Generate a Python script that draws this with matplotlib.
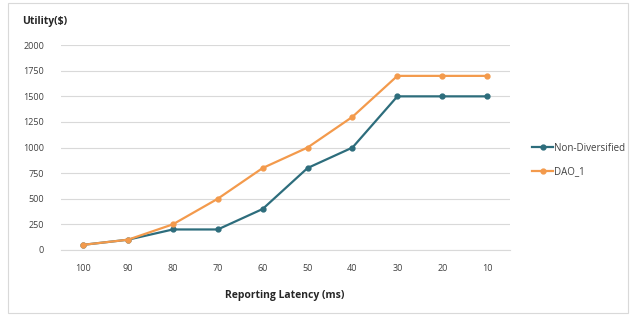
import matplotlib.pyplot as plt
from matplotlib.patches import Rectangle

# data
latency = ["100", "90", "80", "70", "60", "50", "40", "30", "20", "10"]
non_diversified = [50, 100, 200, 200, 400, 800, 1000, 1500, 1500, 1500]
dao_1 = [50, 100, 250, 500, 800, 1000, 1300, 1700, 1700, 1700]
y_ticks = [0, 250, 500, 750, 1000, 1250, 1500, 1750, 2000]

teal = "#2D6D7C"
orange = "#F39A4C"

plt.rcParams["font.family"] = ["Open Sans", "DejaVu Sans"]

fig = plt.figure(figsize=(6.36, 3.18), dpi=100)
fig.patches.append(Rectangle((0.012, 0.015), 0.976, 0.975, transform=fig.transFigure,
                             fill=False, edgecolor="#D9D9D9", linewidth=0.8))

ax = fig.add_axes([0.0953, 0.214, 0.706, 0.644])
x = range(len(latency))
ax.plot(x, non_diversified, color=teal, lw=1.6, marker="o", ms=3.5, label="Non-Diversified")
ax.plot(x, dao_1, color=orange, lw=1.6, marker="o", ms=3.5, label="DAO_1")

ax.set_xlim(-0.5, len(latency) - 0.5)
ax.set_ylim(0, 2000)
ax.set_xticks(list(x))
ax.set_xticklabels(latency)
ax.set_yticks(y_ticks)
ax.tick_params(axis="both", length=0, labelsize=6.5, colors="#404040")
ax.tick_params(axis="x", pad=10)
ax.tick_params(axis="y", pad=12)
ax.grid(axis="y", color="#D9D9D9", lw=0.8)
ax.set_axisbelow(True)
for s in ["top", "right", "left"]:
    ax.spines[s].set_visible(False)
ax.spines["bottom"].set_color("#D9D9D9")

fig.text(0.035, 0.925, "Utility($)", fontsize=7.5, fontweight="bold", color="#262626")
ax.set_xlabel("Reporting Latency (ms)", fontsize=7.5, fontweight="bold", color="#262626", labelpad=12)

ax.legend(loc="center left", bbox_to_anchor=(1.03, 0.44), frameon=False, fontsize=7,
          handlelength=2.2, labelspacing=1.3, handletextpad=0.1, labelcolor="#404040")

fig.savefig("out.png", dpi=100)
